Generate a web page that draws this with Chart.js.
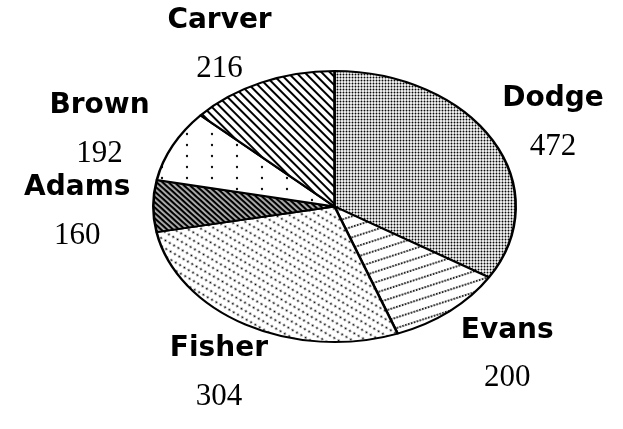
<!DOCTYPE html>
<html>
<head>
<meta charset="utf-8">
<style>
  html, body { margin: 0; padding: 0; background: #fff; }
  #wrap { width: 623px; height: 429px; }
</style>
<script src="https://cdn.jsdelivr.net/npm/chart.js@4.4.1/dist/chart.umd.min.js"></script>
</head>
<body>
<div id="wrap"><canvas id="grafico"></canvas></div>
<script>
// candidates, clockwise starting at 12 o'clock
const candidates = ['Dodge', 'Evans', 'Fisher', 'Adams', 'Brown', 'Carver'];
// numbers printed under each name
const votes = [472, 200, 304, 160, 192, 216];
// slice sizes as they are drawn in the picture (degrees) - the drawing is not to scale
const sliceDegrees = [121.5, 38.1, 99.5, 22.2, 31.0, 47.7];

const squash = 0.748; // height / width of the tilted pie

// small tiles used as fill patterns
function makeTile(w, h, draw) {
    const c = document.createElement('canvas');
    c.width = w;
    c.height = h;
    const g = c.getContext('2d');
    g.fillStyle = '#fff';
    g.fillRect(0, 0, w, h);
    g.fillStyle = '#000';
    draw(g);
    return c;
}

function dot(g, x, y, r) {
    g.beginPath();
    g.arc(x, y, r, 0, Math.PI * 2);
    g.fill();
}

function makePattern(tile, angle) {
    const p = document.createElement('canvas').getContext('2d').createPattern(tile, 'repeat');
    // undo the vertical squash so the texture keeps its own shape
    p.setTransform(new DOMMatrix().scale(1, 1 / squash).rotate(angle || 0));
    return p;
}

const fills = [
    makePattern(makeTile(3, 3, g => dot(g, 1.5, 1.5, 1.0))),                                   // Dodge
    makePattern(makeTile(3.5, 10, g => dot(g, 1.75, 5, 1.0)), -18),                            // Evans
    makePattern(makeTile(5, 7, g => dot(g, 2.5, 3.5, 1.05)), 30),                              // Fisher
    makePattern(makeTile(4, 4, g => { g.fillRect(0, 0, 4, 4); g.fillStyle = '#fff'; g.fillRect(0, 1.4, 4, 1.3); }), 42), // Adams
    makePattern(makeTile(25, 11, g => dot(g, 12, 5, 1.15))),                                   // Brown
    makePattern(makeTile(4, 6, g => g.fillRect(0, 2, 4, 2)), 45)                               // Carver
];

// squash the round pie into an ellipse
const ellipsePlugin = {
    id: 'ellipse',
    beforeDatasetsDraw(chart) {
        const arc = chart.getDatasetMeta(0).data[0];
        const ctx = chart.ctx;
        ctx.save();
        ctx.translate(arc.x, arc.y);
        ctx.scale(1, squash);
        ctx.translate(-arc.x, -arc.y);
    },
    afterDatasetsDraw(chart) {
        chart.ctx.restore();
    }
};

// name + value outside every slice
const labelPlugin = {
    id: 'nombres',
    afterDraw(chart) {
        const ctx = chart.ctx;
        ctx.save();
        ctx.textAlign = 'center';
        ctx.textBaseline = 'middle';
        ctx.fillStyle = '#000';
        chart.getDatasetMeta(0).data.forEach((arc, i) => {
            const mid = (arc.startAngle + arc.endAngle) / 2;
            const c = Math.cos(mid), s = Math.sin(mid);
            const x = arc.x + c * arc.outerRadius + 76 * c + 12 * s;
            const y = arc.y + s * arc.outerRadius * squash + 48 * s + 6;
            ctx.font = 'bold 28px "DejaVu Sans"';
            ctx.fillText(candidates[i], x, y - 24);
            ctx.font = '31px "Liberation Serif"';
            ctx.fillText(String(votes[i]), x, y + 24);
        });
        ctx.restore();
    }
};

new Chart(document.getElementById('grafico'), {
    type: 'pie',
    data: {
        labels: candidates,
        datasets: [{
            data: sliceDegrees,
            backgroundColor: fills,
            borderColor: '#000',
            borderWidth: 2.6
        }]
    },
    options: {
        responsive: true,
        maintainAspectRatio: false,
        animation: false,
        layout: { padding: { left: 152, right: 106, top: 24, bottom: 40 } },
        plugins: {
            legend: { display: false },
            tooltip: { enabled: false }
        }
    },
    plugins: [ellipsePlugin, labelPlugin]
});
</script>
</body>
</html>
